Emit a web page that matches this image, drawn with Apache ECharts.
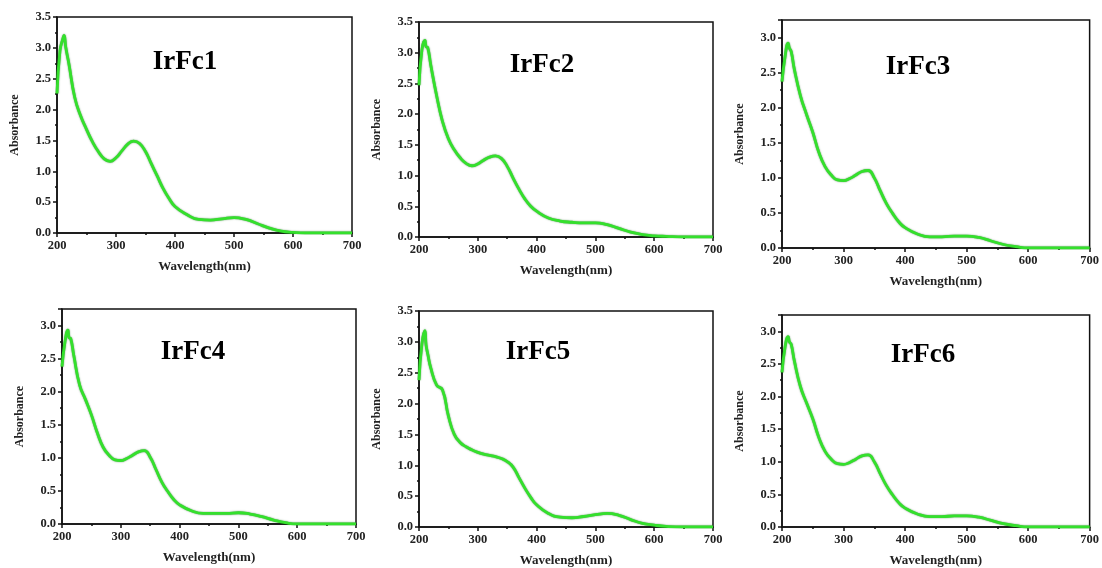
<!DOCTYPE html>
<html>
<head>
<meta charset="utf-8">
<script src="https://cdn.jsdelivr.net/npm/echarts@6/dist/echarts.min.js"></script>
<style>
  html, body { margin: 0; padding: 0; background: #fff; }
  #chart { width: 1102px; height: 568px; }
</style>
</head>
<body>
<div id="chart"></div>
<script>
// wavelengths (nm) sampled off the spectra
var wavelength = [200, 205, 210, 212, 215, 220, 230, 240, 250, 260, 270, 280, 290, 300, 310, 320, 330, 340, 350,
                  360, 370, 380, 390, 400, 420, 440, 460, 480, 500, 520, 540, 560, 580, 600, 620, 650, 700];

var irfc1 = [2.26, 2.95, 3.15, 3.2, 3.0, 2.75, 2.2, 1.9, 1.68, 1.48, 1.32, 1.2, 1.16, 1.22, 1.33, 1.44, 1.49, 1.45, 1.32,
             1.12, 0.92, 0.72, 0.56, 0.43, 0.3, 0.22, 0.21, 0.23, 0.25, 0.22, 0.15, 0.08, 0.03, 0.01, 0, 0, 0];
var irfc2 = [2.47, 3.05, 3.2, 3.1, 3.08, 2.8, 2.3, 1.88, 1.6, 1.42, 1.29, 1.2, 1.16, 1.19, 1.25, 1.3, 1.32, 1.28, 1.15,
             0.96, 0.78, 0.62, 0.5, 0.42, 0.31, 0.26, 0.24, 0.23, 0.23, 0.2, 0.14, 0.08, 0.04, 0.02, 0.01, 0, 0];
var irfc3 = [2.37, 2.73, 2.92, 2.85, 2.8, 2.55, 2.17, 1.9, 1.65, 1.36, 1.16, 1.04, 0.97, 0.96, 0.99, 1.04, 1.09, 1.105, 1.0,
             0.81, 0.63, 0.49, 0.37, 0.29, 0.2, 0.16, 0.16, 0.17, 0.17, 0.15, 0.1, 0.05, 0.02, 0, 0, 0, 0];
var irfc4 = [2.38, 2.75, 2.93, 2.82, 2.8, 2.55, 2.1, 1.88, 1.65, 1.38, 1.16, 1.04, 0.97, 0.96, 0.99, 1.04, 1.09, 1.11, 1.01,
             0.82, 0.63, 0.49, 0.37, 0.29, 0.2, 0.16, 0.16, 0.16, 0.17, 0.15, 0.11, 0.06, 0.02, 0, 0, 0, 0];
var irfc5 = [2.38, 2.97, 3.18, 2.95, 2.8, 2.58, 2.3, 2.22, 1.8, 1.5, 1.37, 1.3, 1.25, 1.21, 1.18, 1.16, 1.14, 1.11, 1.06,
             0.97, 0.8, 0.63, 0.48, 0.36, 0.22, 0.16, 0.15, 0.17, 0.2, 0.22, 0.19, 0.12, 0.06, 0.03, 0.01, 0, 0];
var irfc6 = [2.37, 2.76, 2.92, 2.84, 2.8, 2.55, 2.15, 1.9, 1.66, 1.37, 1.16, 1.04, 0.97, 0.96, 0.99, 1.04, 1.09, 1.105, 1.0,
             0.81, 0.63, 0.49, 0.37, 0.29, 0.2, 0.16, 0.16, 0.17, 0.17, 0.15, 0.1, 0.05, 0.02, 0, 0, 0, 0];

var names = ['IrFc1', 'IrFc2', 'IrFc3', 'IrFc4', 'IrFc5', 'IrFc6'];
var spectra = [irfc1, irfc2, irfc3, irfc4, irfc5, irfc6];
var yMax = [3.5, 3.5, 3.25, 3.25, 3.5, 3.25];

// plot boxes [left, top, width, height] and title centres
var boxes = [[57, 17, 295, 216], [419, 22, 294, 215], [782, 20, 310, 228],
             [62, 309, 294, 215], [419, 311, 294, 216], [782, 315, 310, 212]];
var titlePos = [[185, 62], [542, 65], [918, 67], [193, 352], [538, 352], [923, 355]];

var serif = '"Liberation Serif", "Times New Roman", serif';
var myChart = echarts.init(document.getElementById('chart'));

var grids = [], xAxes = [], yAxes = [], series = [], texts = [];
for (var i = 0; i < 6; i++) {
    var b = boxes[i];
    grids.push({
        left: b[0], top: b[1], width: b[2], height: b[3],
        show: true, borderColor: '#111', borderWidth: 1.5, backgroundColor: 'transparent'
    });
    xAxes.push({
        gridIndex: i, type: 'value', min: 200, max: 700, interval: 100,
        name: 'Wavelength(nm)', nameLocation: 'middle', nameGap: 27,
        nameTextStyle: { fontFamily: serif, fontWeight: 'bold', fontSize: 13, color: '#222' },
        axisLine: { lineStyle: { color: '#111', width: 1.5 } },
        axisTick: { length: 4, lineStyle: { color: '#111', width: 1.5 } },
        minorTick: { show: true, splitNumber: 2, length: 2, lineStyle: { color: '#111', width: 1.5 } },
        axisLabel: { fontFamily: serif, fontWeight: 'bold', fontSize: 12.5, color: '#222', margin: 6 },
        splitLine: { show: false }
    });
    yAxes.push({
        gridIndex: i, type: 'value', min: 0, max: yMax[i], interval: 0.5,
        name: 'Absorbance', nameLocation: 'middle', nameGap: 36, nameRotate: 90,
        nameTextStyle: { fontFamily: serif, fontWeight: 'bold', fontSize: 12, color: '#222' },
        axisLine: { show: true, lineStyle: { color: '#111', width: 1.5 } },
        axisTick: { length: 4, lineStyle: { color: '#111', width: 1.5 } },
        minorTick: { show: true, splitNumber: 2, length: 2, lineStyle: { color: '#111', width: 1.5 } },
        axisLabel: {
            fontFamily: serif, fontWeight: 'bold', fontSize: 12.5, color: '#222', margin: 6,
            showMaxLabel: yMax[i] === 3.5,
            formatter: function (v) { return v.toFixed(1); }
        },
        splitLine: { show: false }
    });
    var pts = [];
    for (var k = 0; k < wavelength.length; k++) {
        pts.push([wavelength[k], spectra[i][k]]);
    }
    series.push({
        name: names[i], type: 'line', xAxisIndex: i, yAxisIndex: i,
        data: pts, showSymbol: false, smooth: 0.5,
        lineStyle: { color: '#34e02c', width: 2.8, shadowColor: 'rgba(0,90,0,0.7)', shadowBlur: 1.5 }
    });
    texts.push({
        type: 'text', x: titlePos[i][0], y: titlePos[i][1], z: 10,
        style: {
            text: names[i], fill: '#000', align: 'center', verticalAlign: 'middle',
            font: 'bold 27px ' + serif
        }
    });
}

var option = {
    animation: false,
    backgroundColor: '#fff',
    grid: grids,
    xAxis: xAxes,
    yAxis: yAxes,
    series: series,
    graphic: texts
};
myChart.setOption(option);
</script>
</body>
</html>
